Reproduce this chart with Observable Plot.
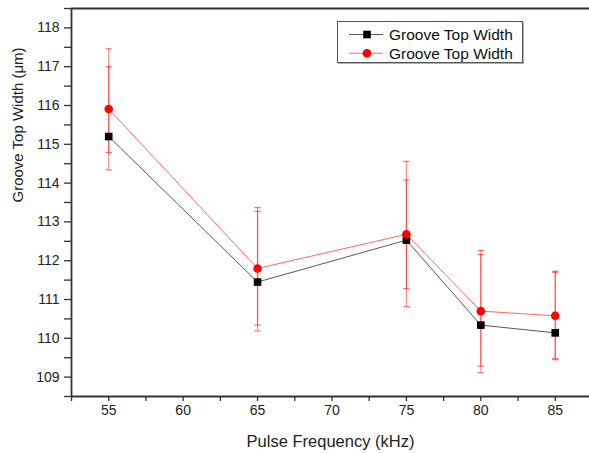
<!DOCTYPE html>
<html><head><meta charset="utf-8">
<script src="https://cdn.jsdelivr.net/npm/d3@7"></script>
<script src="https://cdn.jsdelivr.net/npm/@observablehq/plot@0.6"></script>
<style>
body{margin:0;background:#fff;font-family:"Liberation Sans",Arial,Helvetica,sans-serif;}
#wrap{position:relative;width:589px;height:453px;overflow:hidden;}
#legend{position:absolute;left:337px;top:21px;width:184px;height:40px;border:1px solid #555;box-shadow:1px 1px 0 #b0b0b0;background:#fff;}
</style>
</head><body>
<div id="wrap"><div id="legend"></div></div>
<script>
// ---- data ----
const freq = [55, 65, 75, 80, 85];
const widthBlack = [115.2, 111.45, 112.53, 110.34, 110.14];
const widthRed = [115.91, 111.8, 112.68, 110.7, 110.58];
const errOuterLow = [114.34, 110.19, 110.82, 109.11, 109.45];
const errOuterHigh = [117.46, 113.37, 114.56, 112.26, 111.73];
const errInnerLow = [114.79, 110.34, 111.28, 109.28, 109.48];
const errInnerHigh = [117.0, 113.27, 114.08, 112.16, 111.70];
const seriesNames = ["Groove Top Width", "Groove Top Width"];
const xTickLabels = [55, 60, 65, 70, 75, 80, 85];
const xMinorTicks = [52.5, 57.5, 62.5, 67.5, 72.5, 77.5, 82.5, 87.5];
const yTickLabels = [109, 110, 111, 112, 113, 114, 115, 116, 117, 118];
const yMinorTicks = [108.5, 109.5, 110.5, 111.5, 112.5, 113.5, 114.5, 115.5, 116.5, 117.5, 118.5];
const xTitle = "Pulse Frequency (kHz)";
const yTitle = "Groove Top Width (\u03bcm)";
const xDomain = [52.5, 87.3];
const yDomain = [108.5, 118.5];

const black = freq.map((f, i) => ({f, v: widthBlack[i]}));
const red = freq.map((f, i) => ({f, v: widthRed[i]}));
const errs = freq.flatMap((f, i) => [
  {f, lo: errOuterLow[i], hi: errOuterHigh[i]},
  {f, lo: errInnerLow[i], hi: errInnerHigh[i]}
]);
const caps = errs.flatMap(d => [{f: d.f, v: d.lo}, {f: d.f, v: d.hi}]);
const capSymbol = {draw(ctx) { ctx.moveTo(-3.2, 0); ctx.lineTo(3.2, 0); }};

const axisColor = "#333";
const allX = [...xTickLabels, ...xMinorTicks].sort((a, b) => a - b);
const allY = [...yTickLabels, ...yMinorTicks].sort((a, b) => a - b);

const chart = Plot.plot({
  width: 589, height: 453,
  marginLeft: 71, marginRight: 0, marginTop: 8, marginBottom: 57,
  style: {fontFamily: '"Liberation Sans", Arial, sans-serif', fontSize: "14px", color: "#222", background: "#fff"},
  x: {domain: xDomain},
  y: {domain: yDomain},
  marks: [
    Plot.axisX({ticks: allX, tickSize: 5, tickPadding: 4, stroke: axisColor, strokeWidth: 1.3,
      tickFormat: d => xTickLabels.includes(d) ? String(d) : "", label: null, fontSize: 14}),
    Plot.axisY({ticks: allY, tickSize: 7, tickPadding: 5, stroke: axisColor, strokeWidth: 1.3,
      tickFormat: d => yTickLabels.includes(d) ? String(d) : "", label: null, fontSize: 14}),
    Plot.ruleY([yDomain[0]], {stroke: axisColor, strokeWidth: 1.8}),
    Plot.ruleY([yDomain[1]], {stroke: axisColor, strokeWidth: 1.8}),
    Plot.ruleX([xDomain[0]], {stroke: axisColor, strokeWidth: 1.8}),
    Plot.text([xTitle], {frameAnchor: "bottom", dy: 45, lineAnchor: "middle", fontSize: 16.5, fill: "#222"}),
    Plot.text([yTitle], {frameAnchor: "left", dx: -53, rotate: -90, lineAnchor: "middle", fontSize: 15, fill: "#222"}),
    Plot.ruleX(errs, {x: "f", y1: "lo", y2: "hi", stroke: "red", strokeOpacity: 0.45, strokeWidth: 1.2}),
    Plot.dot(caps, {x: "f", y: "v", symbol: capSymbol, fill: "none", stroke: "red", strokeOpacity: 0.55, strokeWidth: 1.2}),
    Plot.line(black, {x: "f", y: "v", stroke: "#222", strokeOpacity: 0.75, strokeWidth: 1}),
    Plot.line(red, {x: "f", y: "v", stroke: "red", strokeOpacity: 0.6, strokeWidth: 1}),
    Plot.dot(black, {x: "f", y: "v", symbol: "square", r: 4.3, fill: "black", stroke: "none"}),
    Plot.dot(red, {x: "f", y: "v", symbol: "circle", r: 4.3, fill: "red", stroke: "none"})
  ]
});
document.getElementById("wrap").prepend(chart);

// legend
const lg = d3.select("#legend").append("svg").attr("width", 184).attr("height", 40)
  .style("font-family", '"Liberation Sans", Arial, sans-serif');
const legendRows = [
  {name: seriesNames[0], color: "#222", op: 0.75, fill: "black", sym: d3.symbolSquare},
  {name: seriesNames[1], color: "red", op: 0.6, fill: "red", sym: d3.symbolCircle}
];
legendRows.forEach((r, i) => {
  const cy = 12.5 + i * 18.7;
  lg.append("line").attr("x1", 11).attr("x2", 45).attr("y1", cy).attr("y2", cy)
    .attr("stroke", r.color).attr("stroke-opacity", r.op);
  lg.append("path").attr("d", d3.symbol(r.sym, Math.PI * 4.3 * 4.3)()).attr("transform", `translate(29,${cy})`)
    .attr("fill", r.fill);
  lg.append("text").attr("x", 51).attr("y", cy).attr("dy", "0.35em").attr("font-size", 15.5)
    .attr("fill", "#111").text(r.name);
});
</script>
</body></html>
